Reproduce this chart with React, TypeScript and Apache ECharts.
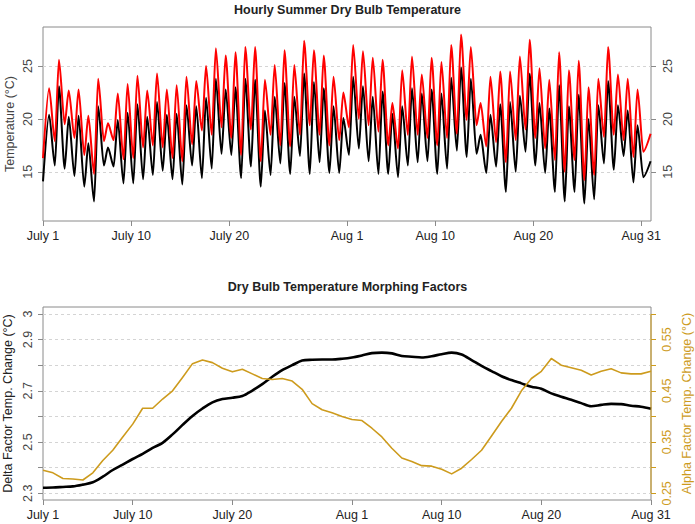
import React, { useEffect, useRef } from 'react';
import * as echarts from 'echarts';

const FONT = '"Liberation Sans", Arial, Helvetica, sans-serif';
const GOLD = '#CD9B1D';
const FRAME = '#8a8a8a';

// Day offsets from July 1 used for the date ticks on both panels
const tickDays = [0, 9, 19, 31, 40, 50, 61];
const tickLabels = ['July 1', 'July 10', 'July 20', 'Aug 1', 'Aug 10', 'Aug 20', 'Aug 31'];

// Temperature axis ticks (°C)
const tempTicks = [15, 20, 25];

// Hourly dry bulb temperature: daily morning lows and afternoon highs, July 1 .. Aug 31
const presentLow = [
  14.1, 15.6, 15.3, 14.6, 13.6, 12.2, 15.6, 15.5, 13.9, 13.9,
  14.3, 14.7, 15.1, 14.3, 13.8, 15.6, 14.4, 15.3, 16.7, 16.6,
  14.4, 15.5, 13.6, 14.7, 15.8, 14.8, 16.5, 14.8, 15.9, 14.9,
  14.9, 16.6, 17.2, 16.0, 14.8, 14.8, 14.5, 15.6, 15.9, 16.0,
  14.8, 15.3, 17.0, 16.4, 16.7, 14.9, 15.5, 13.1, 15.0, 16.9,
  15.6, 14.9, 13.1, 12.2, 13.1, 12.0, 12.4, 15.8, 15.2, 16.5,
  14.0, 14.5,
];
const presentHigh = [
  20.4, 23.1, 20.2, 20.3, 17.7, 21.2, 17.3, 19.9, 20.6, 21.4,
  20.2, 21.6, 20.4, 20.5, 21.3, 21.2, 22.0, 23.8, 22.8, 23.0,
  23.8, 23.7, 20.8, 22.1, 23.4, 22.1, 24.3, 23.5, 22.9, 21.2,
  20.1, 24.0, 23.1, 22.1, 22.6, 20.5, 21.2, 22.9, 22.4, 22.8,
  22.4, 23.9, 24.9, 23.8, 18.5, 20.4, 21.4, 21.6, 22.2, 24.3,
  21.5, 21.0, 23.2, 21.2, 22.3, 20.0, 21.3, 23.6, 21.3, 20.8,
  19.4, 16.0,
];
const morphedLow = [
  16.3, 17.9, 19.5, 18.2, 16.6, 14.8, 17.9, 18.0, 16.2, 16.3,
  17.3, 17.5, 17.3, 16.3, 16.0, 17.6, 18.9, 18.5, 19.2, 18.2,
  16.6, 19.0, 16.0, 18.5, 17.5, 17.4, 18.5, 19.4, 18.5, 17.5,
  18.0, 19.2, 20.0, 19.4, 18.8, 17.5, 17.2, 18.5, 18.5, 18.2,
  17.5, 18.2, 18.6, 19.9, 19.4, 17.4, 17.8, 15.9, 18.0, 19.0,
  18.2, 17.2, 16.1, 15.0, 16.1, 14.2, 14.7, 18.3, 18.5, 18.0,
  16.4, 16.9,
];
const morphedHigh = [
  22.9, 25.6, 22.7, 22.8, 20.3, 23.8, 19.6, 22.4, 23.3, 24.1,
  22.7, 24.3, 22.8, 23.2, 24.0, 23.6, 25.0, 26.7, 26.0, 26.3,
  26.8, 26.8, 23.7, 25.1, 26.5, 25.1, 27.4, 26.5, 26.0, 24.0,
  22.5, 27.0, 26.4, 25.8, 25.6, 21.5, 24.6, 25.9, 24.2, 25.8,
  25.4, 27.0, 28.0, 26.8, 21.5, 24.0, 24.5, 24.5, 25.9, 27.5,
  24.8, 23.7, 26.3, 24.6, 25.5, 23.0, 23.8, 26.8, 24.2, 23.8,
  22.8, 18.6,
];

// Daily morphing factors, July 1 .. Aug 31
const deltaFactor = [
  2.322, 2.323, 2.325, 2.327, 2.334, 2.343, 2.365, 2.391, 2.412, 2.434,
  2.454, 2.477, 2.497, 2.530, 2.567, 2.602, 2.631, 2.655, 2.668, 2.673,
  2.680, 2.701, 2.726, 2.755, 2.781, 2.800, 2.818, 2.821, 2.822, 2.822,
  2.825, 2.830, 2.838, 2.847, 2.849, 2.846, 2.836, 2.833, 2.830, 2.835,
  2.843, 2.849, 2.842, 2.820, 2.797, 2.777, 2.757, 2.742, 2.729, 2.716,
  2.708, 2.690, 2.677, 2.665, 2.652, 2.640, 2.645, 2.649, 2.648, 2.642,
  2.638, 2.630,
];
const alphaFactor = [
  0.295, 0.290, 0.279, 0.278, 0.276, 0.290, 0.314, 0.334, 0.360, 0.385,
  0.416, 0.416, 0.434, 0.450, 0.476, 0.503, 0.510, 0.505, 0.494, 0.487,
  0.492, 0.483, 0.474, 0.472, 0.474, 0.469, 0.453, 0.425, 0.413, 0.407,
  0.400, 0.394, 0.392, 0.377, 0.360, 0.338, 0.319, 0.312, 0.304, 0.303,
  0.297, 0.288, 0.299, 0.316, 0.334, 0.362, 0.390, 0.416, 0.450, 0.474,
  0.488, 0.513, 0.500, 0.495, 0.490, 0.481, 0.488, 0.493, 0.485, 0.483,
  0.483, 0.488,
];

const deltaTicks = [2.3, 2.4, 2.5, 2.6, 2.7, 2.8, 2.9, 3.0];
const deltaLabels = [2.3, 2.5, 2.7, 2.9, 3.0];
const alphaTicks = [0.25, 0.3, 0.35, 0.4, 0.45, 0.5, 0.55, 0.6];
const alphaLabels = [0.25, 0.35, 0.45, 0.55];

const LOW_HOUR = 5;
const HIGH_HOUR = 15;

// Build [day, value] pairs: lows in the early morning, highs mid-afternoon
function dailyCycle(lows: number[], highs: number[]): number[][] {
  const pts: number[][] = [];
  const n = lows.length;
  for (let d = 0; d < n; d++) {
    pts.push([d + (d === 0 ? 0 : LOW_HOUR) / 24, lows[d]]);
    pts.push([d + (d === n - 1 ? 23 : HIGH_HOUR) / 24, highs[d]]);
  }
  return pts;
}

const dateLabel = (v: number) => {
  const i = tickDays.indexOf(Math.round(v));
  return i >= 0 ? tickLabels[i] : '';
};

const labelText = { fontFamily: FONT, fontSize: 12.5 };

function dateAxis(gridIndex: number, max: number) {
  return {
    type: 'value',
    gridIndex,
    min: 0,
    max,
    axisLine: { show: false },
    axisTick: { show: true, customValues: tickDays, length: 5, lineStyle: { color: FRAME } },
    axisLabel: { ...labelText, color: '#222', margin: 8, customValues: tickDays, formatter: dateLabel, showMinLabel: true, showMaxLabel: true },
    splitLine: { show: false },
  };
}

const dashed = { show: true, lineStyle: { color: '#d4d4d4', type: [3, 3], width: 1 } };

const option = {
  animation: false,
  backgroundColor: '#fff',
  textStyle: { fontFamily: FONT },
  title: [
    {
      text: 'Hourly Summer Dry Bulb Temperature',
      left: 'center',
      top: 3,
      padding: 0,
      textStyle: { fontFamily: FONT, fontSize: 12.5, fontWeight: 'bold', color: '#222' },
    },
    {
      text: 'Dry Bulb Temperature Morphing Factors',
      left: 'center',
      top: 280,
      padding: 0,
      textStyle: { fontFamily: FONT, fontSize: 12.5, fontWeight: 'bold', color: '#222' },
    },
  ],
  grid: [
    { left: 43, right: 44, top: 27, height: 194, show: true, borderColor: FRAME, borderWidth: 1, backgroundColor: 'transparent', outerBoundsMode: 'none', containLabel: false },
    { left: 43, right: 44, top: 307, height: 193, show: true, borderColor: FRAME, borderWidth: 1, backgroundColor: 'transparent', outerBoundsMode: 'none', containLabel: false },
  ],
  xAxis: [dateAxis(0, 62), dateAxis(1, 61)],
  yAxis: [
    {
      type: 'value', gridIndex: 0, position: 'left', min: 10.35, max: 28.7,
      name: 'Temperature (°C)', nameLocation: 'middle', nameGap: 27, nameRotate: 90,
      nameTextStyle: { ...labelText, color: '#444' }, nameMoveOverlap: false,
      axisLine: { show: false },
      axisTick: { show: true, customValues: tempTicks, length: 5, lineStyle: { color: FRAME } },
      axisLabel: { ...labelText, color: '#444', rotate: 90, margin: 9, customValues: tempTicks },
      splitLine: dashed,
    },
    {
      type: 'value', gridIndex: 0, position: 'right', min: 10.35, max: 28.7,
      axisLine: { show: false },
      axisTick: { show: true, customValues: tempTicks, length: 5, lineStyle: { color: FRAME } },
      axisLabel: { ...labelText, color: '#444', rotate: 90, margin: 10, customValues: tempTicks },
      splitLine: { show: false },
    },
    {
      type: 'value', gridIndex: 1, position: 'left', min: 2.274, max: 3.027,
      name: 'Delta Factor Temp. Change (°C)', nameLocation: 'middle', nameGap: 29, nameRotate: 90,
      nameTextStyle: { ...labelText, color: '#222' }, nameMoveOverlap: false,
      axisLine: { show: false },
      axisTick: { show: true, customValues: deltaTicks, length: 5, lineStyle: { color: FRAME } },
      axisLabel: {
        ...labelText, color: '#444', rotate: 90, margin: 9, customValues: deltaLabels,
        formatter: (v: number) => (Math.abs(v - 3) < 1e-9 ? '3' : v.toFixed(1)),
      },
      splitLine: dashed,
    },
    {
      type: 'value', gridIndex: 1, position: 'right', min: 0.237, max: 0.6135,
      name: 'Alpha Factor Temp. Change (°C)', nameLocation: 'middle', nameGap: 29, nameRotate: 90,
      nameTextStyle: { ...labelText, color: GOLD }, nameMoveOverlap: false,
      axisLine: { show: false },
      axisTick: { show: true, customValues: alphaTicks, length: 5, lineStyle: { color: GOLD } },
      axisLabel: {
        ...labelText, color: GOLD, rotate: 90, margin: 9, customValues: alphaLabels,
        formatter: (v: number) => v.toFixed(2),
      },
      splitLine: { show: false },
    },
  ],
  series: [
    {
      name: 'Present',
      type: 'line', xAxisIndex: 0, yAxisIndex: 0,
      data: dailyCycle(presentLow, presentHigh),
      showSymbol: false, smooth: 0.25, smoothMonotone: 'x',
      lineStyle: { color: '#000', width: 2, join: 'round' },
    },
    {
      name: 'Morphed',
      type: 'line', xAxisIndex: 0, yAxisIndex: 0,
      data: dailyCycle(morphedLow, morphedHigh),
      showSymbol: false, smooth: 0.25, smoothMonotone: 'x',
      lineStyle: { color: '#ff0000', width: 2, join: 'round' },
    },
    {
      name: 'Delta',
      type: 'line', xAxisIndex: 1, yAxisIndex: 2,
      data: deltaFactor.map((v, i) => [i, v]),
      showSymbol: false, smooth: 0.3,
      lineStyle: { color: '#000', width: 2.6, join: 'round' },
    },
    {
      name: 'Alpha',
      type: 'line', xAxisIndex: 1, yAxisIndex: 3,
      data: alphaFactor.map((v, i) => [i, v]),
      showSymbol: false,
      lineStyle: { color: GOLD, width: 1.6, join: 'round' },
    },
  ],
};

export default function App() {
  const ref = useRef<HTMLDivElement>(null);
  useEffect(() => {
    if (!ref.current) return;
    const chart = echarts.init(ref.current, null, { renderer: 'svg' });
    chart.setOption(option as any);
    // Alpha axis line runs from its first to its last tick
    const x = chart.convertToPixel({ xAxisIndex: 1 }, 61) as number;
    const y1 = chart.convertToPixel({ yAxisIndex: 3 }, alphaTicks[0]) as number;
    const y2 = chart.convertToPixel({ yAxisIndex: 3 }, alphaTicks[alphaTicks.length - 1]) as number;
    chart.setOption({
      graphic: [
        { type: 'line', shape: { x1: x, y1, x2: x, y2 }, style: { stroke: GOLD, lineWidth: 1 }, z: 10 },
      ],
    });
    return () => chart.dispose();
  }, []);
  return <div ref={ref} style={{ position: 'fixed', left: 0, top: 0, width: 695, height: 524 }} />;
}
